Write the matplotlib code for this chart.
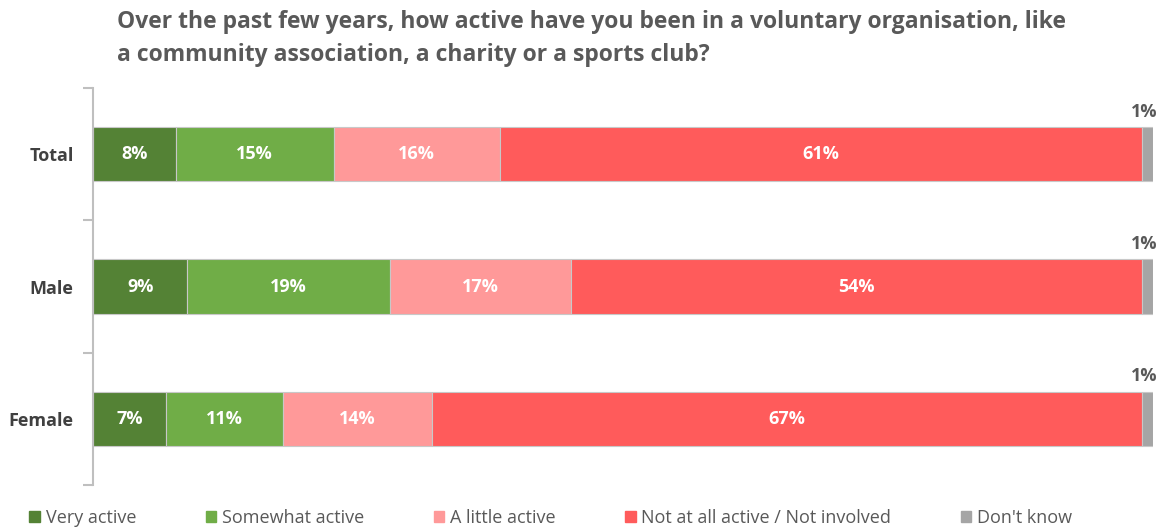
import matplotlib.pyplot as plt
from matplotlib.patches import Patch

groups = ['Total', 'Male', 'Female']
responses = ['Very active', 'Somewhat active', 'A little active',
             'Not at all active / Not involved', "Don't know"]
very_active = [7.8, 8.9, 6.9]
somewhat_active = [14.9, 19.1, 11.0]
little_active = [15.7, 17.1, 14.1]
not_active = [60.6, 53.9, 67.0]
dont_know = [1.0, 1.0, 1.0]
colors = ['#548235', '#70AD47', '#FF9999', '#FF5B5B', '#A5A5A5']

series = [very_active, somewhat_active, little_active, not_active, dont_know]

plt.rcParams['font.family'] = ['Open Sans', 'DejaVu Sans']
fig = plt.figure(figsize=(11.65, 5.32), dpi=100)
ax = fig.add_axes([93 / 1165, 1 - 485 / 532, 1060 / 1165, 397 / 532])

y = list(range(len(groups)))
left = [0.0] * len(groups)
for i, vals in enumerate(series):
    bars = ax.barh(y, vals, left=left, height=0.41, color=colors[i],
                   edgecolor='#c8c8c8', linewidth=0.8)
    for j, b in enumerate(bars):
        if i < 4:
            ax.text(left[j] + vals[j] / 2, y[j], f'{round(vals[j])}%',
                    ha='center', va='center', color='white',
                    fontsize=13, fontweight='bold')
        else:
            ax.text(left[j] + vals[j] / 2 - 0.3, y[j] - 0.32, f'{round(vals[j])}%',
                    ha='center', va='center', color='#595959',
                    fontsize=13, fontweight='bold')
    left = [l + v for l, v in zip(left, vals)]

ax.set_xlim(0, 100)
ax.set_ylim(2.5, -0.5)
ax.set_yticks(y)
ax.set_yticklabels(groups, fontsize=13, fontweight='bold', color='#404040')
ax.set_yticks([-0.5, 0.5, 1.5, 2.5], minor=True)
ax.tick_params(axis='y', which='major', length=0, pad=14)
ax.tick_params(axis='y', which='minor', length=7, width=1.5, color='#bfbfbf')
ax.set_xticks([])
for s in ['top', 'right', 'bottom']:
    ax.spines[s].set_visible(False)
ax.spines['left'].set_color('#bfbfbf')
ax.spines['left'].set_linewidth(1.5)

fig.text(117 / 1165, 1 - 10 / 532,
         'Over the past few years, how active have you been in a voluntary organisation, like\n'
         'a community association, a charity or a sports club?',
         ha='left', va='top', fontsize=16.5, fontweight='bold', color='#595959',
         linespacing=1.5)

handles = [Patch(color=c) for c in colors]
fig.legend(handles, responses, loc='center left', bbox_to_anchor=(13 / 1165, 1 - 518 / 532),
           ncol=5, frameon=False, fontsize=13, handlelength=0.6, handleheight=0.6,
           handletextpad=0.3, columnspacing=3.85, labelcolor='#595959')

fig.savefig('out.png', dpi=100)
